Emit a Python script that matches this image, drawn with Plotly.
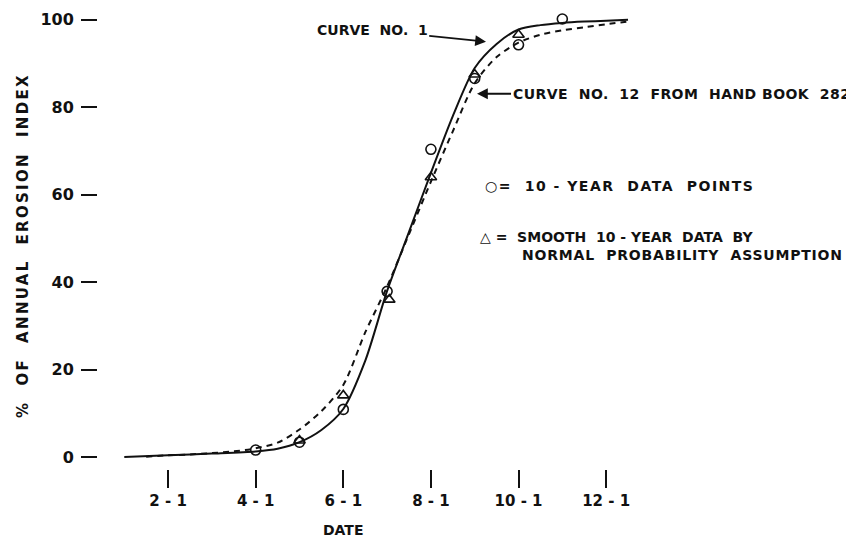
import plotly.graph_objects as go

# month number (2 = Feb 1, 4 = Apr 1, ...)
curve1_x = [1, 2, 3, 4, 4.5, 5, 5.5, 6, 6.5, 7, 7.5, 8, 8.5, 9, 9.5, 10, 10.5, 11, 11.5, 12, 12.5]
curve1_y = [0, 0.4, 0.8, 1.3, 1.9, 3.4, 6.2, 11, 22, 38, 51.5, 65, 78, 89, 94.5, 97.8, 98.8, 99.3, 99.6, 99.8, 100]

curve12_x = [1.5, 2, 2.5, 3, 3.5, 4, 4.5, 5, 5.5, 6, 6.5, 7, 7.5, 8, 8.5, 9, 9.5, 10, 10.5, 11, 11.5, 12, 12.5]
curve12_y = [0.1, 0.4, 0.6, 0.9, 1.3, 2.0, 3.3, 6.3, 10.5, 16.5, 28.5, 39, 51, 63, 74.5, 85.5, 91.5, 94.8, 96.6, 97.6, 98.3, 99.0, 99.6]

data_x = [4, 5, 6, 7, 8, 9, 10, 11]
data_y = [1.6, 3.4, 10.9, 37.9, 70.4, 86.6, 94.3, 100.2]

smooth_x = [5, 6, 7.05, 8, 9, 10]
smooth_y = [3.8, 14.1, 36.0, 64.0, 87.5, 96.6]

tick_vals = [2, 4, 6, 8, 10, 12]
tick_text = ["2 - 1", "4 - 1", "6 - 1", "8 - 1", "10 - 1", "12 - 1"]
y_ticks = [0, 20, 40, 60, 80, 100]

FONT = "DejaVu Sans"
INK = "#111111"


def spaced(s, px):
    return '<span style="letter-spacing:%spx">%s</span>' % (px, s)


fig = go.Figure()
fig.add_trace(go.Scatter(x=curve1_x, y=curve1_y, mode="lines",
                         line=dict(color=INK, width=2, shape="spline", smoothing=0.8),
                         showlegend=False))
fig.add_trace(go.Scatter(x=curve12_x, y=curve12_y, mode="lines",
                         line=dict(color=INK, width=2, dash="6px,5px", shape="spline", smoothing=0.8),
                         showlegend=False))
fig.add_trace(go.Scatter(x=data_x, y=data_y, mode="markers",
                         marker=dict(symbol="circle-open", size=10, color=INK, line=dict(width=1.6)),
                         showlegend=False))
fig.add_trace(go.Scatter(x=smooth_x, y=smooth_y, mode="markers",
                         marker=dict(symbol="triangle-up-open", size=10, color=INK, line=dict(width=1.6)),
                         showlegend=False))

tfont = dict(family=FONT, size=14, color=INK, weight="bold")

ann = [
    dict(x=9.28, y=95, ax=6.66, ay=97.7, axref="x", ayref="y", xref="x", yref="y",
         text="CURVE  NO.  1", showarrow=True, arrowhead=2, arrowsize=1.2, arrowwidth=1.8,
         arrowcolor=INK, font=tfont, standoff=1),
    dict(x=9.03, y=83.1, ax=13.71, ay=83.1, axref="x", ayref="y", xref="x", yref="y",
         text=spaced("CURVE  NO.  12  FROM  HAND BOOK  282", 0.45), showarrow=True, arrowhead=2,
         arrowsize=1.2, arrowwidth=1.8, arrowcolor=INK, font=tfont, standoff=1),
    dict(x=9.19, y=62, xref="x", yref="y", xanchor="left", showarrow=False,
         text=spaced("○=  10 - YEAR  DATA  POINTS", 1.5), font=tfont),
    dict(x=9.08, y=50.3, xref="x", yref="y", xanchor="left", showarrow=False,
         text="△ =  SMOOTH  10 - YEAR  DATA  BY", font=tfont),
    dict(x=10.04, y=46.2, xref="x", yref="y", xanchor="left", showarrow=False,
         text=spaced("NORMAL  PROBABILITY  ASSUMPTION", 0.8), font=tfont),
    dict(x=6, y=0, xref="x", yref="paper", yanchor="middle", yshift=-61, showarrow=False,
         text="DATE", font=tfont),
    dict(x=0, y=48.3, xref="paper", yref="y", xshift=-86, textangle=-90, showarrow=False,
         text=spaced("%  OF  ANNUAL  EROSION  INDEX", 2.3),
         font=dict(family=FONT, size=15, color=INK, weight="bold")),
]

fig.update_layout(
    width=854, height=540,
    margin=dict(l=90, r=4, t=2, b=79),
    paper_bgcolor="white", plot_bgcolor="white",
    annotations=ann,
    xaxis=dict(range=[0.40, 17.75], tickvals=tick_vals, ticktext=tick_text,
               ticks="outside", ticklen=18, tickwidth=2, tickcolor=INK,
               showline=False, showgrid=False, zeroline=False,
               tickfont=dict(family=FONT, size=15, color=INK, weight="bold")),
    yaxis=dict(range=[-2.73, 101.8], tickvals=y_ticks,
               ticks="outside", ticklen=16, tickwidth=2, tickcolor=INK,
               showline=False, showgrid=False, zeroline=False,
               ticklabelstandoff=4,
               tickfont=dict(family=FONT, size=16, color=INK, weight="bold")),
)

fig.write_html("out.html")
